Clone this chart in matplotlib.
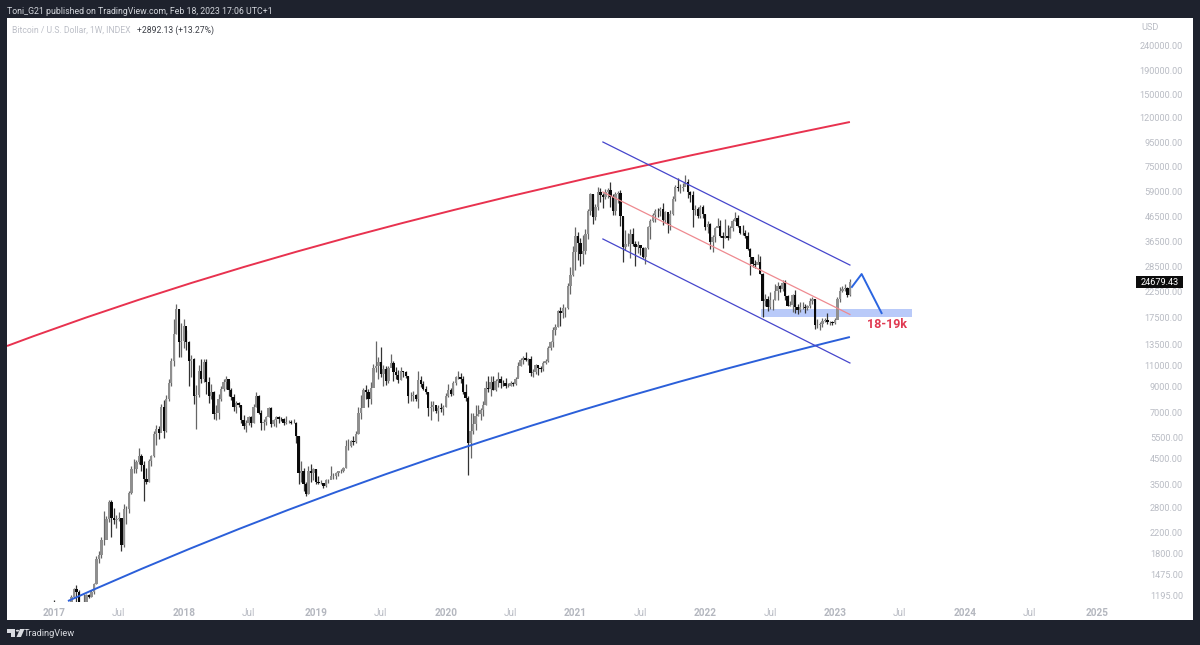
import matplotlib
matplotlib.use("Agg")
import matplotlib.pyplot as plt
from matplotlib.patches import Rectangle, Polygon, Circle, PathPatch
from matplotlib.path import Path
from matplotlib.ticker import NullLocator
import numpy as np

plt.rcParams['font.family'] = ['Roboto', 'DejaVu Sans']

first_open = 965
close_2017 = [910,820,920,920,1020,1000,1055,1180,1280,1235,1025,965,1085,1200,1180,1240,1345,1700,1780,2050,2050,2510,2950,2530,2480,2500,2530,1950,2750,2760,3230,4050,4050,4350,4600,4230,3700,3600,4400,4600,5700,6000,5750,7400,5880,8000,9300,11500,15000,19000,13800,14000]
high_2017 = [1150,905,930,925,1040,1050,1060,1200,1295,1330,1260,1060,1215,1215,1220,1265,1350,1750,1840,2110,2700,2570,3000,3000,2780,2600,2680,2530,2900,2830,3300,4200,4470,4430,4960,4700,4400,4120,4470,4650,5860,6200,6150,7600,7880,8300,9700,11800,17200,19900,19000,16600]
low_2017 = [750,770,810,880,915,950,980,1050,1170,1120,970,890,1080,1080,1170,1185,1220,1340,1640,1720,1950,2060,2430,2100,2380,2300,2470,1850,1920,2380,2650,3200,3900,3920,4280,3980,2970,3500,3600,4200,4560,5100,5400,6050,5500,5800,7800,9000,11000,14900,12000,12000]

close_2018 = [16200,13800,11500,11700,8200,8300,10400,9700,11400,9400,8200,8500,6900,7000,8000,8800,9400,9700,8700,8100,7350,7700,7500,6500,6150,6350,6700,6350,7400,8200,7000,6300,6400,6700,7300,6250,6500,6700,6600,6550,6300,6400,6400,6350,6350,5600,3900,4000,3500,3200,4000,3900,4050]
high_2018 = [17200,15500,14000,12200,11900,9100,11100,11700,11700,11700,9900,9200,8600,7500,8400,9000,9700,9990,9500,8880,8400,7800,7750,7500,6850,6500,6800,6800,7580,8500,8300,7200,6600,6800,7400,7400,6600,6800,6750,6700,6650,6800,6500,6500,6600,6400,5600,4400,4100,3600,4200,4250,4100]
low_2018 = [13000,12800,9000,9900,7600,6000,8150,9300,9400,8400,7700,8000,6600,6500,6600,7800,8600,8800,8200,7900,7100,7000,7400,6300,5950,5800,6200,6100,6300,7400,6900,5900,5900,6200,6700,6100,6150,6100,6350,6450,6200,6250,6350,6250,6300,5200,3500,3600,3280,3130,3200,3570,3650]

close_2019 = [3600,3550,3550,3450,3650,3650,3800,3800,3900,3980,3980,4100,5050,5050,5300,5250,5700,7000,7300,8700,8550,8000,8900,10800,11000,11400,10200,10700,9500,10800,11300,10300,10100,9600,10400,10300,10000,8200,8200,8300,7950,9550,9200,8800,8500,7300,7400,7500,7100,7300,7250,7350]
high_2019 = [4080,3800,3660,3520,3700,3700,4170,3900,3950,4000,4080,4150,5350,5450,5350,5600,5850,7400,8300,8900,9100,8800,9400,11200,13900,12000,13200,11100,11000,11000,12300,11500,10900,10600,10900,10500,10400,10000,8500,8650,8400,10400,9950,9500,9000,8500,7850,7800,7450,7500,7700,7500]
low_2019 = [3500,3500,3500,3370,3400,3550,3700,3700,3700,3800,3900,3950,4100,4900,5000,5100,5200,5700,6600,7500,8000,7400,7600,8950,10300,9700,9900,9000,9100,9300,10900,9500,9700,9300,9600,9900,9800,7700,7800,7800,7800,7300,8950,8700,8400,6800,6500,7100,7000,6450,7050,6850]

close_2020 = [8200,8700,8350,9300,9900,9900,9650,8530,8050,5200,5850,6250,6800,6900,7150,7550,8900,8750,9380,8720,9450,9650,9350,9300,9000,9070,9300,9200,9700,11000,11600,11850,11650,11700,10250,10350,11100,10800,10650,11300,11500,13000,13800,15500,16000,18700,18200,19100,19200,23800,26500,33000]
high_2020 = [8450,9200,8900,9500,9950,10500,10250,9950,9200,8200,7000,6950,7500,7500,7300,7800,9450,10000,9950,9950,9650,10380,10000,9600,9800,9300,9500,9400,9900,11400,11900,12100,12500,11800,12100,10650,11150,11000,11000,11500,11700,13300,14000,15900,16500,18900,19400,19900,19450,24300,28400,34800]
low_2020 = [7350,8100,8230,8300,9100,9700,9300,8400,7800,3850,4500,5700,5900,6750,6500,6800,7550,8500,8200,8700,8650,8950,8900,9000,8850,8950,9000,9000,9100,9900,11000,11200,11500,11100,9950,9850,10200,10100,10300,10500,11200,11400,12800,13200,14800,15900,16200,17500,17600,19000,21900,26000]

close_2021 = [38300,36000,32300,33100,39000,48800,57500,46200,50900,59000,57300,55800,58700,60000,56200,49100,57800,58300,46400,34700,35600,35700,39000,35600,34500,35300,34200,31500,34300,42000,44600,47000,49000,48800,50000,45000,48300,43100,47700,54900,61500,60900,61300,61500,64900,58700,57200,49300,50000,46700,50800,47700]
high_2021 = [41900,40100,37800,38600,40900,49700,58300,57500,52500,61700,61200,58400,60200,61200,64900,57500,58500,59500,59600,46600,40800,39500,40900,41300,36700,36600,35000,34500,34500,42500,45300,48100,49700,50500,51000,52900,48800,47000,49200,56500,62900,67000,63700,64300,69000,66400,59500,59100,51900,51000,51900,52000]
low_2021 = [27700,30400,28800,29200,32300,37400,47000,43000,45000,49300,53200,50400,54800,55400,50900,47000,47000,52900,42100,30000,33500,34900,31000,34800,28800,32700,32100,31000,29300,33900,37300,43800,43900,46300,46700,42800,43400,39600,40800,46900,53900,59500,58000,59400,62300,55600,53500,42000,46900,45500,45600,45700]

close_2022 = [41900,43100,36300,38200,41500,42100,38400,37700,38400,37800,41300,44500,45800,42200,39700,39500,38500,34000,31300,29400,29000,29900,26600,20500,21000,19300,20800,20800,22500,23800,23100,24300,21500,19500,19700,21800,19400,18800,19300,19400,19200,19600,20600,20900,16300,16300,16400,17000,17100,16800,16800,16550]
high_2022 = [47500,44400,43500,38900,41800,45800,44800,39900,45400,42600,42300,45100,48200,47000,41500,42900,40700,40000,34200,31300,30600,32300,31700,26900,21900,21500,22400,21000,24200,24600,24000,25200,25100,21800,20500,22000,22800,19900,20300,20400,19900,19700,21100,21400,21000,17200,16800,17400,17400,18300,17000,16900]
low_2022 = [40600,39700,34000,32900,36200,41700,38000,34300,37500,37100,37600,40500,44200,41900,39200,38600,37600,33700,26300,28600,28100,29300,26600,17600,19600,18600,19000,18900,20700,20700,22400,22700,20800,19600,19500,18500,18200,18100,18500,19000,18200,18900,19200,20000,15600,15800,15500,16000,16700,16500,16300,16300]

close_2023 = [17100,20900,22700,23100,23300,21790,24679.43]
high_2023 = [17400,21250,23400,23800,24200,23400,25300]
low_2023 = [16500,17200,20400,22300,22700,21400,21500]

closes = close_2017 + close_2018 + close_2019 + close_2020 + close_2021 + close_2022 + close_2023
highs = high_2017 + high_2018 + high_2019 + high_2020 + high_2021 + high_2022 + high_2023
lows = low_2017 + low_2018 + low_2019 + low_2020 + low_2021 + low_2022 + low_2023

year_weeks = [0, 52, 105, 157, 209, 261, 313, 365, 418]
year_labels = ['2017', '2018', '2019', '2020', '2021', '2022', '2023', '2024', '2025']
jul_weeks = [26, 78, 131, 183, 235, 287, 339, 391]
price_ticks = [240000,190000,150000,120000,95000,75000,59000,46500,36500,28500,22500,17500,13500,11000,9000,7000,5500,4500,3500,2800,2200,1800,1475,1195]

red_w = [-18.84, 93.8, 206.4, 319.0]
red_p = [13300, 36600, 65930, 115350]
blue_w = [5.6, 110.1, 214.6, 319.0]
blue_p = [1137, 3515, 7826, 14504]
chan_w = [220.0, 319.0]
chan_up_p = [95090, 29030]
chan_mid_p = [58700, 18030]
chan_lo_p = [37320, 11290]
path_w = [319.8, 323.7, 331.7]
path_p = [23500, 26620, 18270]
zone_w = [283.4, 343.9]
zone_p = [17600, 19000]
last_price = 24679.43

W, H = 1200, 645
fig = plt.figure(figsize=(W/100, H/100), dpi=100, facecolor='#1e222d')

def px(x0, y0, x1, y1):
    return [x0/W, 1-y1/H, (x1-x0)/W, (y1-y0)/H]

fig.add_artist(Rectangle((7/W, 1-620/H), 1186/W, 602/H, transform=fig.transFigure, fc='white', ec='none', zorder=0))

ax = fig.add_axes(px(7, 18, 1135, 602), zorder=1)
ax.patch.set_alpha(0)
ax.set_yscale('log')
ax.set_xlim((7-54)/2.495, (1135-54)/2.495)
ax.set_ylim(240000*np.exp(-(602-46)/103.7), 240000*np.exp((46-18)/103.7))
for s in ax.spines.values():
    s.set_visible(False)

weeks = np.arange(len(closes))
c = np.array(closes, float)
o = np.r_[first_open, c[:-1]]
hi = np.array(highs, float)
lo = np.array(lows, float)
up = c >= o

ax.add_patch(Rectangle((zone_w[0], zone_p[0]), zone_w[1]-zone_w[0], zone_p[1]-zone_p[0], fc='#b9caf9', ec='none', zorder=1))
ax.vlines(weeks[up], lo[up], hi[up], color='#666666', lw=0.9, zorder=2)
ax.vlines(weeks[~up], lo[~up], hi[~up], color='#333333', lw=0.9, zorder=2)
ax.bar(weeks[up], c[up]-o[up], bottom=o[up], width=0.95, color='#8f8f8f', lw=0, zorder=3)
ax.bar(weeks[~up], o[~up]-c[~up], bottom=c[~up], width=0.95, color='#0a0a0a', lw=0, zorder=3)

curve_codes = [Path.MOVETO, Path.CURVE4, Path.CURVE4, Path.CURVE4]
ax.add_patch(PathPatch(Path(np.c_[red_w, red_p], curve_codes), fc='none', ec='#e8324f', lw=1.4, zorder=4))
ax.add_patch(PathPatch(Path(np.c_[blue_w, blue_p], curve_codes), fc='none', ec='#2b5fd9', lw=1.4, zorder=4))
ax.plot(chan_w, chan_up_p, color='#4646cc', lw=0.9, zorder=4)
ax.plot(chan_w, chan_lo_p, color='#4646cc', lw=0.9, zorder=4)
ax.plot(chan_w, chan_mid_p, color='#ee8a90', lw=0.9, zorder=4)
ax.plot(path_w, path_p, color='#2b65e0', lw=1.4, zorder=4)

fig.text(887/W, 1-325/H, '18-19k', color='#e03a52', fontsize=9.0, fontweight='bold', ha='center', va='center', zorder=5)

ax.yaxis.tick_right()
ax.set_yticks(price_ticks)
ax.set_yticklabels([f'{p:.2f}' for p in price_ticks])
ax.yaxis.set_minor_locator(NullLocator())
ax.tick_params(axis='y', length=0, pad=34.5, labelsize=6.6, labelcolor='#b9bcc4')
for t in ax.get_yticklabels():
    t.set_ha('right')

all_x = year_weeks + jul_weeks
all_l = year_labels + ['Jul']*len(jul_weeks)
ax.set_xticks(all_x)
ax.set_xticklabels(all_l)
ax.tick_params(axis='x', length=0, pad=4.6, labelsize=7.2, labelcolor='#b9bcc4')
for t, l in zip(ax.get_xticklabels(), all_l):
    if l != 'Jul':
        t.set_fontweight('bold')
        t.set_color('#b4b7bf')

fig.text(7/W, 1-12/H, 'Toni_G21 published on TradingView.com, Feb 18, 2023 17:06 UTC+1', color='#d3d6dc', fontsize=6.3, va='center')
fig.text(12/W, 1-30.5/H, 'Bitcoin / U.S. Dollar, 1W, INDEX', color='#bcbfc7', fontsize=6.2, va='center')
fig.text(137/W, 1-30.5/H, '+2892.13 (+13.27%)', color='#3a3d45', fontsize=6.2, va='center')
fig.text(1141/W, 1-27/H, 'USD', color='#b9bcc4', fontsize=6.6, va='center')
fig.add_artist(Rectangle((1136/W, 1-288/H), 47/W, 12/H, transform=fig.transFigure, fc='#0c0c0c', ec='none', zorder=5))
fig.text(1159.5/W, 1-282.3/H, f'{last_price:.2f}', color='white', fontsize=6.6, ha='center', va='center', zorder=6)

# TradingView logo and name
def fp(pts):
    return [(x/W, 1-y/H) for x, y in pts]
logo = '#d9dbe0'
fig.add_artist(Polygon(fp([(7,629),(15,629),(15,637),(11,637),(11,633),(7,633)]), transform=fig.transFigure, fc=logo, ec='none'))
fig.add_artist(Polygon(fp([(20,629),(24.5,629),(21,637),(16.5,637)]), transform=fig.transFigure, fc=logo, ec='none'))
fig.add_artist(Circle((17.5/W, 1-630.7/H), 1.7/W, transform=fig.transFigure, fc=logo, ec='none'))
fig.text(23.5/W, 1-633/H, 'TradingView', color='#d9dbe0', fontsize=6.7, va='center')

fig.savefig('out.png', dpi=100, facecolor=fig.get_facecolor())
